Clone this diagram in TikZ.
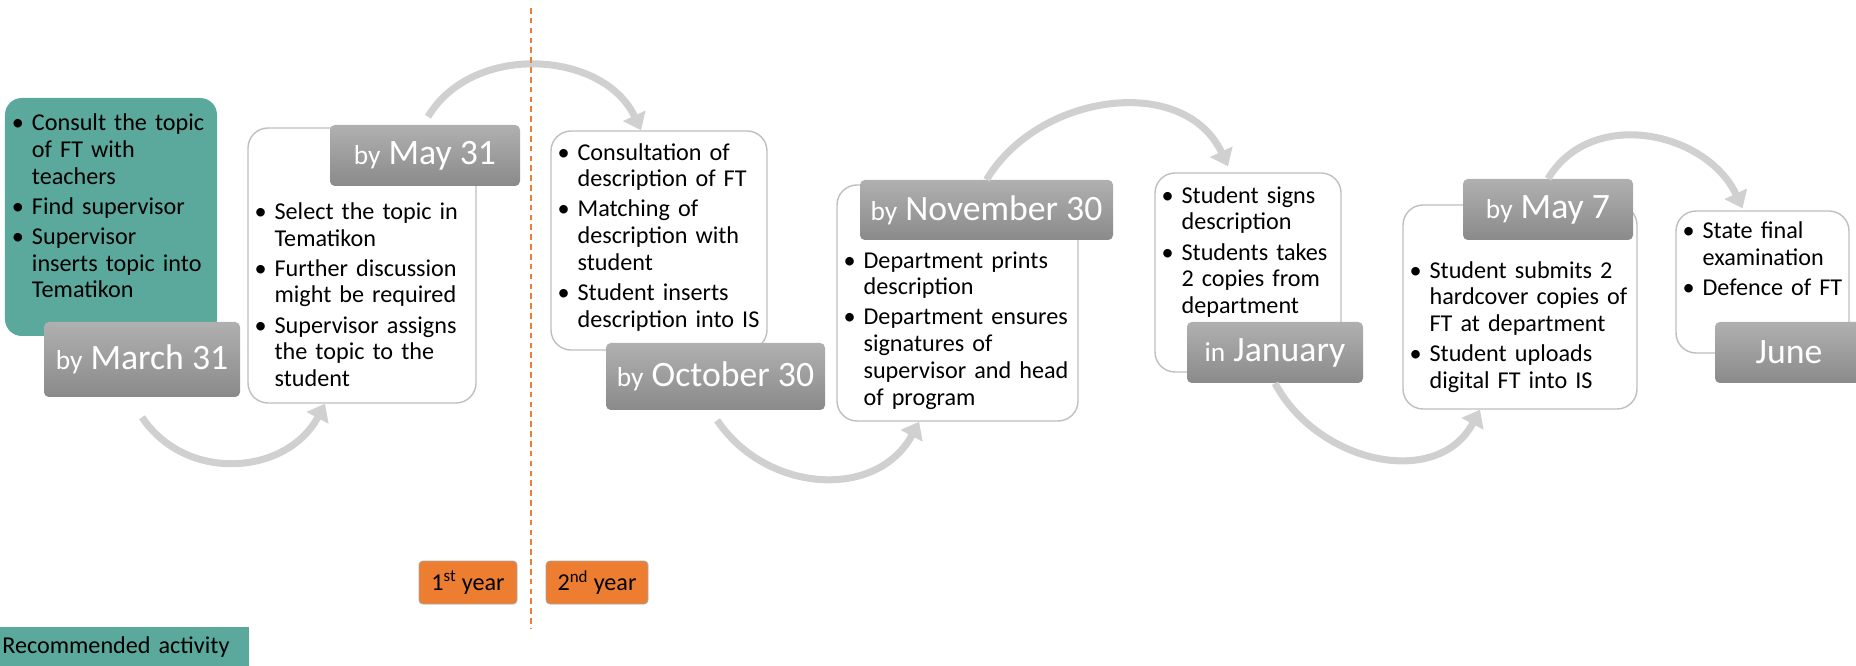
\documentclass[tikz,border=0pt]{standalone}
\usepackage{fontspec}
\setmainfont{Carlito}
\usepackage{enumitem}
\usetikzlibrary{arrows.meta}
\definecolor{recteal}{RGB}{90,169,156}
\definecolor{yearorange}{RGB}{237,125,49}
\definecolor{datetop}{RGB}{176,176,176}
\definecolor{datebot}{RGB}{138,138,138}
\definecolor{boxline}{RGB}{191,191,191}
\definecolor{arcgray}{RGB}{208,208,208}
\setlist[itemize]{label=\textbullet,leftmargin=0.4cm,labelsep=0.2cm,topsep=0pt,partopsep=0pt,parsep=0pt,itemsep=2.4pt}
\newcommand{\bodysize}{\fontsize{17.2}{19}\selectfont}
\newcommand{\datelbl}[2]{{\fontsize{19.5}{20}\selectfont #1} #2}
\begin{document}
\begin{tikzpicture}[
    stepcard/.style={draw=boxline,line width=1pt,fill=white,rounded corners=0.5cm},
    reccard/.style={fill=recteal,rounded corners=0.42cm},
    datecard/.style={rounded corners=0.12cm,top color=datetop,bottom color=datebot,text=white,font=\fontsize{25.4}{28}\selectfont},
    itemlist/.style={anchor=north west,inner sep=0pt,text width=#1,font=\bodysize},
    yearcard/.style={fill=yearorange,draw=gray!70,line width=0.6pt,rounded corners=0.1cm,font=\bodysize},
    flowarc/.style={draw=arcgray,line width=5pt,-{Triangle[width=0.6cm,length=0.4cm]}}]
    \useasboundingbox (0,0) rectangle (46.4,16.625);
    % recommended activity and first deadline
    \node[reccard,minimum width=5.3cm,minimum height=5.95cm] (teal) at (2.775,11.2) {};
    \node[itemlist=8cm] (tealtxt) at ([xshift=0.275cm,yshift=-0.15cm]teal.north west) {\begin{itemize}
        \item Consult the topic\\ of FT with\\ teachers
        \item Find supervisor
        \item Supervisor\\ inserts topic into\\ Tematikon
    \end{itemize}};
    \node[datecard,minimum width=4.9cm,minimum height=1.875cm] (march) at (3.55,7.6375) {\datelbl{by}{March 31}};
    % by May 31
    \node[stepcard,minimum width=5.7cm,minimum height=6.875cm] (w1) at (9.05,9.9875) {};
    \node[itemlist=8cm] (w1txt) at ([xshift=0.275cm,yshift=-1.63cm]w1.north west) {\begin{itemize}
        \item Select the topic in\\ Tematikon
        \item Further discussion\\ might be required
        \item Supervisor assigns\\ the topic to the\\ student
    \end{itemize}};
    \node[datecard,minimum width=4.75cm,minimum height=1.525cm] (may31) at (10.625,12.7375) {\datelbl{by}{May 31}};
    % by October 30
    \node[stepcard,minimum width=5.4cm,minimum height=5.475cm] (w2) at (16.475,10.6125) {};
    \node[itemlist=8cm] (w2txt) at ([xshift=0.275cm,yshift=-0.07cm]w2.north west) {\begin{itemize}
        \item Consultation of\\ description of FT
        \item Matching of\\ description with\\ student
        \item Student inserts\\ description into IS
    \end{itemize}};
    \node[datecard,minimum width=5.475cm,minimum height=1.675cm] (oct) at (17.8875,7.2125) {\datelbl{by}{October 30}};
    % by November 30
    \node[stepcard,minimum width=6.025cm,minimum height=5.9cm] (w3) at (23.9375,9.05) {};
    \node[itemlist=8cm] (w3txt) at ([xshift=0.275cm,yshift=-1.42cm]w3.north west) {\begin{itemize}
        \item Department prints\\ description
        \item Department ensures\\ signatures of\\ supervisor and head\\ of program
    \end{itemize}};
    \node[datecard,minimum width=6.325cm,minimum height=1.5cm] (nov) at (24.6625,11.375) {\datelbl{by}{November 30}};
    % in January
    \node[stepcard,minimum width=4.65cm,minimum height=4.975cm] (w4) at (31.2,9.8125) {};
    \node[itemlist=8cm] (w4txt) at ([xshift=0.275cm,yshift=-0.1cm]w4.north west) {\begin{itemize}
        \item Student signs\\ description
        \item Students takes\\ 2 copies from\\ department
    \end{itemize}};
    \node[datecard,minimum width=4.4cm,minimum height=1.525cm] (jan) at (31.875,7.8125) {\datelbl{in}{January}};
    % by May 7
    \node[stepcard,minimum width=5.85cm,minimum height=5.1cm] (w5) at (38,8.95) {};
    \node[itemlist=8cm] (w5txt) at ([xshift=0.275cm,yshift=-1.17cm]w5.north west) {\begin{itemize}
        \item Student submits 2\\ hardcover copies of\\ FT at department
        \item Student uploads\\ digital FT into IS
    \end{itemize}};
    \node[datecard,minimum width=4.25cm,minimum height=1.525cm] (may7) at (38.7,11.3875) {\datelbl{by}{May 7}};
    % June
    \node[stepcard,minimum width=4.325cm,minimum height=3.55cm] (w6) at (44.0625,9.575) {};
    \node[itemlist=8cm] (w6txt) at ([xshift=0.275cm,yshift=-0.04cm]w6.north west) {\begin{itemize}
        \item State final\\ examination
        \item Defence of FT
    \end{itemize}};
    \node[datecard,minimum width=3.7cm,minimum height=1.525cm] (june) at (44.725,7.8125) {June};
    % arcs between the steps
    \draw[flowarc] ([yshift=-0.5cm]march.south) to[out=-56,in=-118,looseness=1.12] ([xshift=-0.925cm]w1.south);
    \draw[flowarc] ([xshift=0.075cm,yshift=0.2cm]may31.north) to[out=59,in=115,looseness=1.05] ([xshift=-0.45cm]w2.north);
    \draw[flowarc] ([xshift=0.04cm,yshift=-0.25cm]oct.south) to[out=-56,in=-118,looseness=1.12] ([xshift=-0.96cm]w3.south);
    \draw[flowarc] (nov.north) to[out=59,in=115,looseness=1.08] ([xshift=-0.5cm,yshift=0.15cm]w4.north);
    \draw[flowarc] (jan.south) to[out=-62,in=-118,looseness=1.12] ([xshift=-1cm]w5.south);
    \draw[flowarc] (may7.north) to[out=59,in=115,looseness=1.1] ([xshift=-0.5cm,yshift=0.05cm]w6.north);
    % year divider and legend
    \coordinate (divtop) at (13.275,16.425);
    \coordinate (divbot) at (13.275,0.925);
    \draw[yearorange,line width=1pt,dash pattern=on 4pt off 3pt] (divtop) -- (divbot);
    \node[yearcard,minimum width=2.45cm,minimum height=1.075cm] (year1) at (11.7,2.0625) {1\textsuperscript{st} year};
    \node[yearcard,minimum width=2.55cm,minimum height=1.075cm] (year2) at (14.925,2.0625) {2\textsuperscript{nd} year};
    \node[fill=recteal,anchor=south west,text width=6cm,inner xsep=0.175cm,minimum height=1cm,font=\bodysize] (legend) at (-0.125,-0.05) {Recommended activity};
\end{tikzpicture}
\end{document}
